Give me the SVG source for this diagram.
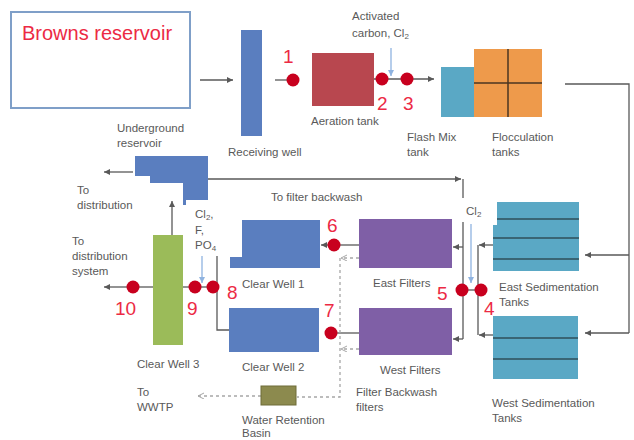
<svg xmlns="http://www.w3.org/2000/svg" width="634" height="440" viewBox="0 0 634 440">
<style>
.lbl{font-family:"Liberation Sans",Arial,sans-serif;font-size:11.5px;fill:#595959}
.num{font-family:"Liberation Sans",Arial,sans-serif;font-size:19px;fill:#ec2a44}
.big{font-family:"Liberation Sans",Arial,sans-serif;font-size:20px;fill:#ec2a44}
.ln{fill:none;stroke:#595959;stroke-width:1.3}
.arr{fill:none;stroke:#595959;stroke-width:1.3;marker-end:url(#ah)}
.dash{fill:none;stroke:#a6a6a6;stroke-width:1.3;stroke-dasharray:3 3}
.darr{fill:none;stroke:#a6a6a6;stroke-width:1.3;stroke-dasharray:3 3;marker-end:url(#dh)}
.barr{fill:none;stroke:#8fb3e0;stroke-width:1.3;marker-end:url(#bh)}
.dot{fill:#c8001e}
.blue{fill:#5a7ebf}
.teal{fill:#5aa8c5}
.purple{fill:#7f5fa6}
.sep{stroke:#2f4f5a;stroke-width:1.5}
.fsep{stroke:#4a3520;stroke-width:1.5}
</style>
<defs>
<marker id="ah" markerWidth="8" markerHeight="8" refX="6" refY="3" orient="auto" markerUnits="userSpaceOnUse"><path d="M0,0 L6,3 L0,6 Z" fill="#595959"/></marker>
<marker id="dh" markerWidth="8" markerHeight="8" refX="6" refY="3" orient="auto" markerUnits="userSpaceOnUse"><path d="M0,0 L6,3 L0,6" fill="none" stroke="#a6a6a6"/></marker>
<marker id="bh" markerWidth="8" markerHeight="8" refX="6" refY="3" orient="auto" markerUnits="userSpaceOnUse"><path d="M0,0 L6,3 L0,6 Z" fill="#8fb3e0"/></marker>
</defs>

<g id="connectors">
<line class="arr" x1="200" y1="80" x2="233" y2="80"/>
<line class="ln" x1="275" y1="80" x2="290" y2="80"/>
<line class="arr" x1="374" y1="79" x2="434" y2="79"/>
<line class="barr" x1="391" y1="48" x2="391" y2="76"/>
<polyline class="ln" points="565,84 629,84 629,333"/>
<line class="arr" x1="629" y1="255" x2="585" y2="255"/>
<line class="arr" x1="629" y1="333" x2="585" y2="333"/>
<line class="arr" x1="493" y1="245" x2="479" y2="245"/>
<line class="arr" x1="493" y1="335" x2="479" y2="335"/>
<line class="ln" x1="478" y1="245" x2="478" y2="335"/>
<line class="ln" x1="462" y1="290" x2="481" y2="290"/>
<line class="barr" x1="471" y1="224" x2="471" y2="283"/>
<line class="ln" x1="463" y1="222" x2="463" y2="339"/>
<line class="arr" x1="463" y1="247" x2="453" y2="247"/>
<line class="arr" x1="463" y1="339" x2="453" y2="339"/>
<line class="arr" x1="208" y1="179" x2="461" y2="179"/>
<line class="ln" x1="463" y1="179" x2="463" y2="198"/>
<line class="ln" x1="359" y1="245" x2="336" y2="245"/>
<line class="arr" x1="330" y1="245" x2="321" y2="245"/>
<line class="ln" x1="359" y1="333" x2="331" y2="333"/>
<polyline class="ln" points="217,256 217,330 229,330"/>
<line class="ln" x1="195" y1="287" x2="213" y2="287"/>
<line class="barr" x1="202" y1="256" x2="202" y2="283"/>
<line class="ln" x1="183" y1="287" x2="195" y2="287"/>
<line class="ln" x1="153" y1="287" x2="133" y2="287"/>
<line class="arr" x1="133" y1="287" x2="104" y2="287"/>
<line class="arr" x1="172" y1="235" x2="172" y2="201"/>
<line class="arr" x1="133" y1="172" x2="104" y2="172"/>
<line class="darr" x1="359" y1="258" x2="341" y2="258"/>
<line class="darr" x1="359" y1="349" x2="341" y2="349"/>
<polyline class="dash" points="340,258 340,397 297,397"/>
<line class="darr" x1="261" y1="396" x2="198" y2="396"/>
</g>

<g id="browns-reservoir">
<rect x="11" y="12" width="179" height="96" fill="#fff" stroke="#7f9fc8" stroke-width="2"/>
<text class="big" x="22" y="40">Browns reservoir</text>
</g>

<g id="receiving-well">
<rect class="blue" x="241" y="30" width="21" height="106"/>
<text class="lbl" x="228" y="156">Receiving well</text>
</g>

<g id="aeration-tank">
<rect x="312" y="53" width="62" height="53" fill="#b8474f"/>
<text class="lbl" x="311" y="125">Aeration tank</text>
</g>

<g id="chem1">
<text class="lbl" x="352" y="20">Activated</text>
<text class="lbl" x="352" y="37">carbon, Cl<tspan font-size="8" dy="2">2</tspan></text>
</g>

<g id="flash-mix">
<rect class="teal" x="441" y="67" width="33" height="50"/>
<text class="lbl" x="407" y="141">Flash Mix</text>
<text class="lbl" x="407" y="156">tank</text>
</g>

<g id="flocculation">
<rect x="474" y="49" width="68" height="68" fill="#ee9a4b"/>
<line class="fsep" x1="508" y1="49" x2="508" y2="117"/>
<line class="fsep" x1="474" y1="83" x2="542" y2="83"/>
<text class="lbl" x="492" y="141">Flocculation</text>
<text class="lbl" x="492" y="156">tanks</text>
</g>

<g id="east-sedimentation">
<polygon class="teal" points="497,202 579,202 579,271 493,271 493,225 497,225"/>
<line class="sep" x1="497" y1="219" x2="579" y2="219"/>
<line class="sep" x1="493" y1="238" x2="579" y2="238"/>
<line class="sep" x1="493" y1="259" x2="579" y2="259"/>
<text class="lbl" x="499" y="291">East Sedimentation</text>
<text class="lbl" x="499" y="306">Tanks</text>
</g>

<g id="west-sedimentation">
<rect class="teal" x="493" y="316" width="85" height="63"/>
<line class="sep" x1="493" y1="338" x2="578" y2="338"/>
<line class="sep" x1="493" y1="359" x2="578" y2="359"/>
<text class="lbl" x="492" y="407">West Sedimentation</text>
<text class="lbl" x="492" y="422">Tanks</text>
</g>

<g id="east-filters">
<rect class="purple" x="359" y="219" width="93" height="49"/>
<text class="lbl" x="373" y="287">East Filters</text>
</g>

<g id="west-filters">
<rect class="purple" x="359" y="308" width="93" height="47"/>
<text class="lbl" x="380" y="374">West Filters</text>
</g>

<g id="chem2">
<text class="lbl" x="466" y="215">Cl<tspan font-size="8" dy="2">2</tspan></text>
</g>

<g id="clear-well-1">
<polygon class="blue" points="242,220 320,220 320,268 230,268 230,257 242,257"/>
<text class="lbl" x="242" y="288">Clear Well 1</text>
</g>

<g id="clear-well-2">
<rect class="blue" x="229" y="308" width="90" height="44"/>
<text class="lbl" x="242" y="371">Clear Well 2</text>
</g>

<g id="clear-well-3">
<rect x="153" y="235" width="30" height="110" fill="#9bbb59"/>
<text class="lbl" x="137" y="368">Clear Well 3</text>
</g>

<g id="chem3">
<text class="lbl" x="195" y="218">Cl<tspan font-size="8" dy="2">2</tspan><tspan dy="-2">,</tspan></text>
<text class="lbl" x="195" y="234">F,</text>
<text class="lbl" x="195" y="249">PO<tspan font-size="8" dy="2">4</tspan></text>
</g>

<g id="underground-reservoir">
<polygon class="blue" points="135,156 208,156 208,200 186,200 186,205 183,205 183,183 150,183 150,176 135,176"/>
<text class="lbl" x="117" y="132">Underground</text>
<text class="lbl" x="117" y="147">reservoir</text>
</g>

<g id="to-distribution">
<text class="lbl" x="77" y="194">To</text>
<text class="lbl" x="77" y="209">distribution</text>
</g>

<g id="to-distribution-system">
<text class="lbl" x="72" y="245">To</text>
<text class="lbl" x="72" y="260">distribution</text>
<text class="lbl" x="72" y="275">system</text>
</g>

<g id="to-filter-backwash">
<text class="lbl" x="271" y="201">To filter backwash</text>
</g>

<g id="filter-backwash-filters">
<text class="lbl" x="356" y="396">Filter Backwash</text>
<text class="lbl" x="356" y="411">filters</text>
</g>

<g id="water-retention-basin">
<rect x="261" y="386" width="35" height="19" fill="#8c8a4e" stroke="#6e6c38" stroke-width="1"/>
<text class="lbl" x="242" y="424">Water Retention</text>
<text class="lbl" x="242" y="437">Basin</text>
</g>

<g id="to-wwtp">
<text class="lbl" x="137" y="396">To</text>
<text class="lbl" x="137" y="411">WWTP</text>
</g>

<g id="points">
<circle class="dot" cx="293" cy="80" r="6.5"/>
<circle class="dot" cx="382" cy="79" r="6.5"/>
<circle class="dot" cx="407" cy="79" r="6.5"/>
<circle class="dot" cx="481" cy="290" r="6.5"/>
<circle class="dot" cx="462" cy="290" r="6.5"/>
<circle class="dot" cx="334" cy="245" r="6.5"/>
<circle class="dot" cx="331" cy="333" r="6.5"/>
<circle class="dot" cx="213" cy="287" r="6.5"/>
<circle class="dot" cx="195" cy="287" r="6.5"/>
<circle class="dot" cx="133" cy="287" r="6.5"/>
<text class="num" x="283" y="63">1</text>
<text class="num" x="377" y="110">2</text>
<text class="num" x="403" y="110">3</text>
<text class="num" x="484" y="315">4</text>
<text class="num" x="437" y="300">5</text>
<text class="num" x="327" y="232">6</text>
<text class="num" x="324" y="317">7</text>
<text class="num" x="227" y="299">8</text>
<text class="num" x="187" y="315">9</text>
<text class="num" x="115" y="315">10</text>
</g>
</svg>
